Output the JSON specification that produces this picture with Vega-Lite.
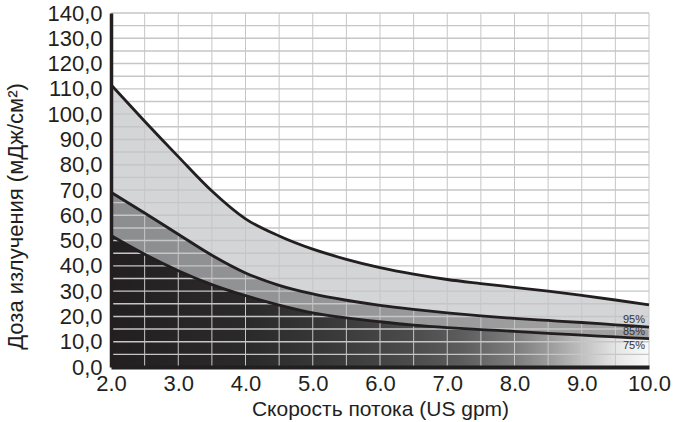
{
  "$schema": "https://vega.github.io/schema/vega-lite/v6.json",
  "width": 538,
  "height": 354,
  "autosize": "none",
  "padding": {"left": 111, "top": 13, "right": 30, "bottom": 55},
  "background": "white",
  "config": {
    "view": {"stroke": null},
    "font": "Liberation Sans",
    "axisY": {
      "titleFontSize": 22, "titleFontWeight": "normal", "titleColor": "#231f20",
      "titleX": -84, "titleY": 203,
      "labelFontSize": 22, "labelColor": "#231f20", "labelPadding": 9,
      "labelFlush": false, "labelOverlap": false,
      "ticks": false,
      "domainColor": "#231f20", "domainWidth": 3.5,
      "grid": false
    },
    "axisX": {
      "titleFontSize": 21, "titleFontWeight": "normal", "titleColor": "#231f20", "titlePadding": 4,
      "labelFontSize": 22, "labelColor": "#231f20", "labelPadding": 6,
      "labelFlush": false, "labelOverlap": false,
      "ticks": false,
      "domainColor": "#231f20", "domainWidth": 4,
      "grid": false
    }
  },
  "datasets": {
    "curves": [
      {"x": 2.0, "p95": 111.6, "p85": 69.1, "p75": 52.0},
      {"x": 2.5, "p95": 97.2, "p85": 60.9, "p75": 44.6},
      {"x": 3.0, "p95": 83.2, "p85": 52.5, "p75": 38.1},
      {"x": 3.5, "p95": 69.6, "p85": 44.2, "p75": 32.6},
      {"x": 4.0, "p95": 58.6, "p85": 37.2, "p75": 28.2},
      {"x": 4.5, "p95": 51.8, "p85": 32.3, "p75": 24.5},
      {"x": 5.0, "p95": 46.6, "p85": 28.9, "p75": 21.4},
      {"x": 5.5, "p95": 42.6, "p85": 26.4, "p75": 19.4},
      {"x": 6.0, "p95": 39.3, "p85": 24.4, "p75": 17.9},
      {"x": 6.5, "p95": 36.7, "p85": 22.8, "p75": 16.6},
      {"x": 7.0, "p95": 34.6, "p85": 21.4, "p75": 15.6},
      {"x": 7.5, "p95": 33.0, "p85": 20.2, "p75": 14.8},
      {"x": 8.0, "p95": 31.5, "p85": 19.2, "p75": 14.1},
      {"x": 8.5, "p95": 30.0, "p85": 18.4, "p75": 13.3},
      {"x": 9.0, "p95": 28.3, "p85": 17.6, "p75": 12.6},
      {"x": 9.5, "p95": 26.5, "p85": 16.7, "p75": 11.9},
      {"x": 10.0, "p95": 24.6, "p85": 15.8, "p75": 11.2}
    ],
    "labels": [
      {"x": 10, "y": 18.5, "label": "95%"},
      {"x": 10, "y": 13.8, "label": "85%"},
      {"x": 10, "y": 8.3, "label": "75%"}
    ],
    "gridX": [
      {"x": 2.5}, {"x": 3}, {"x": 3.5}, {"x": 4}, {"x": 4.5}, {"x": 5}, {"x": 5.5}, {"x": 6},
      {"x": 6.5}, {"x": 7}, {"x": 7.5}, {"x": 8}, {"x": 8.5}, {"x": 9}, {"x": 9.5}, {"x": 10}
    ],
    "gridY": [
      {"y": 5}, {"y": 10}, {"y": 15}, {"y": 20}, {"y": 25}, {"y": 30}, {"y": 35}, {"y": 40},
      {"y": 45}, {"y": 50}, {"y": 55}, {"y": 60}, {"y": 65}, {"y": 70}, {"y": 75}, {"y": 80},
      {"y": 85}, {"y": 90}, {"y": 95}, {"y": 100}, {"y": 105}, {"y": 110}, {"y": 115}, {"y": 120},
      {"y": 125}, {"y": 130}, {"y": 135}, {"y": 140}
    ]
  },
  "layer": [
    {
      "data": {"name": "curves"},
      "mark": {"type": "area", "interpolate": "monotone", "color": "#d4d5d7"},
      "encoding": {
        "x": {"field": "x", "type": "quantitative", "scale": {"domain": [2, 10], "nice": false, "zero": false},
          "axis": {"title": "Скорость потока (US gpm)", "values": [2, 3, 4, 5, 6, 7, 8, 9, 10], "format": ".1f", "zindex": 1}},
        "y": {"field": "p95", "type": "quantitative", "scale": {"domain": [0, 140], "nice": false},
          "axis": {"title": "Доза излучения (мДж/см²)", "values": [0, 10, 20, 30, 40, 50, 60, 70, 80, 90, 100, 110, 120, 130, 140], "labelExpr": "replace(format(datum.value, '.1f'), '.', ',')", "zindex": 1}},
        "y2": {"field": "p85"}
      }
    },
    {
      "data": {"name": "curves"},
      "mark": {"type": "area", "interpolate": "monotone",
        "color": {"gradient": "linear", "x1": 0, "y1": 0, "x2": 1, "y2": 0,
          "stops": [{"offset": 0, "color": "#8c8d8f"}, {"offset": 1, "color": "#a2a2a3"}]}},
      "encoding": {
        "x": {"field": "x", "type": "quantitative", "scale": {"domain": [2, 10], "nice": false, "zero": false},
          "axis": {"title": "Скорость потока (US gpm)", "values": [2, 3, 4, 5, 6, 7, 8, 9, 10], "format": ".1f", "zindex": 1}},
        "y": {"field": "p85", "type": "quantitative", "scale": {"domain": [0, 140], "nice": false},
          "axis": {"title": "Доза излучения (мДж/см²)", "values": [0, 10, 20, 30, 40, 50, 60, 70, 80, 90, 100, 110, 120, 130, 140], "labelExpr": "replace(format(datum.value, '.1f'), '.', ',')", "zindex": 1}},
        "y2": {"field": "p75"}
      }
    },
    {
      "data": {"name": "curves"},
      "mark": {"type": "area", "interpolate": "monotone",
        "color": {"gradient": "linear", "x1": 0, "y1": 0, "x2": 1, "y2": 0,
          "stops": [
            {"offset": 0, "color": "#231f20"},
            {"offset": 0.25, "color": "#2b2a2b"},
            {"offset": 0.4, "color": "#383838"},
            {"offset": 0.55, "color": "#4a4a4a"},
            {"offset": 0.65, "color": "#5c5c5c"},
            {"offset": 0.75, "color": "#7c7c7c"},
            {"offset": 0.82, "color": "#9e9e9e"},
            {"offset": 0.88, "color": "#c2c2c2"},
            {"offset": 0.94, "color": "#e6e6e6"},
            {"offset": 1, "color": "#fafafa"}
          ]}},
      "encoding": {
        "x": {"field": "x", "type": "quantitative", "scale": {"domain": [2, 10], "nice": false, "zero": false},
          "axis": {"title": "Скорость потока (US gpm)", "values": [2, 3, 4, 5, 6, 7, 8, 9, 10], "format": ".1f", "zindex": 1}},
        "y": {"field": "p75", "type": "quantitative", "scale": {"domain": [0, 140], "nice": false},
          "axis": {"title": "Доза излучения (мДж/см²)", "values": [0, 10, 20, 30, 40, 50, 60, 70, 80, 90, 100, 110, 120, 130, 140], "labelExpr": "replace(format(datum.value, '.1f'), '.', ',')", "zindex": 1}},
        "y2": {"datum": 0}
      }
    },
    {
      "data": {"name": "gridX"},
      "mark": {"type": "rule", "color": "#c6c6c6", "strokeWidth": 1},
      "encoding": {
        "x": {"field": "x", "type": "quantitative", "scale": {"domain": [2, 10], "nice": false, "zero": false},
          "axis": {"title": "Скорость потока (US gpm)", "values": [2, 3, 4, 5, 6, 7, 8, 9, 10], "format": ".1f", "zindex": 1}}
      }
    },
    {
      "data": {"name": "gridY"},
      "mark": {"type": "rule", "color": "#c6c6c6", "strokeWidth": 1.4},
      "encoding": {
        "y": {"field": "y", "type": "quantitative", "scale": {"domain": [0, 140], "nice": false},
          "axis": {"title": "Доза излучения (мДж/см²)", "values": [0, 10, 20, 30, 40, 50, 60, 70, 80, 90, 100, 110, 120, 130, 140], "labelExpr": "replace(format(datum.value, '.1f'), '.', ',')", "zindex": 1}}
      }
    },
    {
      "data": {"name": "curves"},
      "mark": {"type": "line", "interpolate": "monotone", "color": "#231f20", "strokeWidth": 2.8},
      "encoding": {
        "x": {"field": "x", "type": "quantitative", "scale": {"domain": [2, 10], "nice": false, "zero": false},
          "axis": {"title": "Скорость потока (US gpm)", "values": [2, 3, 4, 5, 6, 7, 8, 9, 10], "format": ".1f", "zindex": 1}},
        "y": {"field": "p95", "type": "quantitative", "scale": {"domain": [0, 140], "nice": false},
          "axis": {"title": "Доза излучения (мДж/см²)", "values": [0, 10, 20, 30, 40, 50, 60, 70, 80, 90, 100, 110, 120, 130, 140], "labelExpr": "replace(format(datum.value, '.1f'), '.', ',')", "zindex": 1}}
      }
    },
    {
      "data": {"name": "curves"},
      "mark": {"type": "line", "interpolate": "monotone", "color": "#231f20", "strokeWidth": 2.8},
      "encoding": {
        "x": {"field": "x", "type": "quantitative", "scale": {"domain": [2, 10], "nice": false, "zero": false},
          "axis": {"title": "Скорость потока (US gpm)", "values": [2, 3, 4, 5, 6, 7, 8, 9, 10], "format": ".1f", "zindex": 1}},
        "y": {"field": "p85", "type": "quantitative", "scale": {"domain": [0, 140], "nice": false},
          "axis": {"title": "Доза излучения (мДж/см²)", "values": [0, 10, 20, 30, 40, 50, 60, 70, 80, 90, 100, 110, 120, 130, 140], "labelExpr": "replace(format(datum.value, '.1f'), '.', ',')", "zindex": 1}}
      }
    },
    {
      "data": {"name": "curves"},
      "mark": {"type": "line", "interpolate": "monotone", "color": "#231f20", "strokeWidth": 2.8},
      "encoding": {
        "x": {"field": "x", "type": "quantitative", "scale": {"domain": [2, 10], "nice": false, "zero": false},
          "axis": {"title": "Скорость потока (US gpm)", "values": [2, 3, 4, 5, 6, 7, 8, 9, 10], "format": ".1f", "zindex": 1}},
        "y": {"field": "p75", "type": "quantitative", "scale": {"domain": [0, 140], "nice": false},
          "axis": {"title": "Доза излучения (мДж/см²)", "values": [0, 10, 20, 30, 40, 50, 60, 70, 80, 90, 100, 110, 120, 130, 140], "labelExpr": "replace(format(datum.value, '.1f'), '.', ',')", "zindex": 1}}
      }
    },
    {
      "data": {"name": "labels"},
      "mark": {"type": "text", "align": "right", "baseline": "middle", "dx": -4, "fontSize": 11, "color": "#333333"},
      "encoding": {
        "x": {"field": "x", "type": "quantitative", "scale": {"domain": [2, 10], "nice": false, "zero": false},
          "axis": {"title": "Скорость потока (US gpm)", "values": [2, 3, 4, 5, 6, 7, 8, 9, 10], "format": ".1f", "zindex": 1}},
        "y": {"field": "y", "type": "quantitative", "scale": {"domain": [0, 140], "nice": false},
          "axis": {"title": "Доза излучения (мДж/см²)", "values": [0, 10, 20, 30, 40, 50, 60, 70, 80, 90, 100, 110, 120, 130, 140], "labelExpr": "replace(format(datum.value, '.1f'), '.', ',')", "zindex": 1}},
        "text": {"field": "label"}
      }
    }
  ]
}
